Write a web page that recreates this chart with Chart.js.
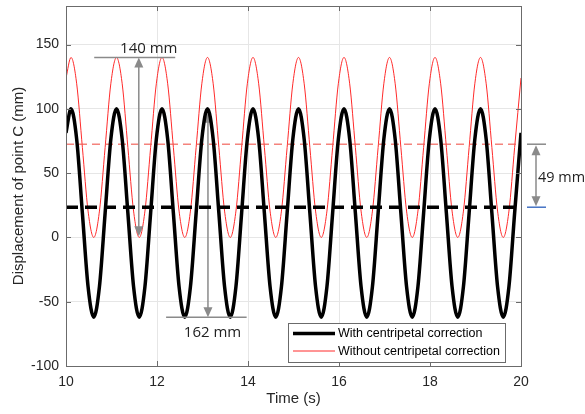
<!DOCTYPE html>
<html lang="en">
<head>
<meta charset="UTF-8">
<title>Displacement of point C</title>
<script src="https://cdn.jsdelivr.net/npm/chart.js"></script>
<style>
    body { margin: 0; background: #fff; }
    #grafico { display: block; }
</style>
</head>
<body>
<canvas id="grafico" width="585" height="414"></canvas>
<script>
    var tempos = [10,
        10.11, 10.235, 10.36, 10.485, 10.61, 10.735, 10.86, 10.985,
        11.11, 11.235, 11.36, 11.485, 11.61, 11.735, 11.86, 11.985,
        12.11, 12.235, 12.36, 12.485, 12.61, 12.735, 12.86, 12.985,
        13.11, 13.235, 13.36, 13.485, 13.61, 13.735, 13.86, 13.985,
        14.11, 14.235, 14.36, 14.485, 14.61, 14.735, 14.86, 14.985,
        15.11, 15.235, 15.36, 15.485, 15.61, 15.735, 15.86, 15.985,
        16.11, 16.235, 16.36, 16.485, 16.61, 16.735, 16.86, 16.985,
        17.11, 17.235, 17.36, 17.485, 17.61, 17.735, 17.86, 17.985,
        18.11, 18.235, 18.36, 18.485, 18.61, 18.735, 18.86, 18.985,
        19.11, 19.235, 19.36, 19.485, 19.61, 19.735, 19.86,
        20];

    var comCorrecao = [81.4,
        100, 76.3, 19, -38.3, -62, -38.3, 19, 76.3,
        100, 76.3, 19, -38.3, -62, -38.3, 19, 76.3,
        100, 76.3, 19, -38.3, -62, -38.3, 19, 76.3,
        100, 76.3, 19, -38.3, -62, -38.3, 19, 76.3,
        100, 76.3, 19, -38.3, -62, -38.3, 19, 76.3,
        100, 76.3, 19, -38.3, -62, -38.3, 19, 76.3,
        100, 76.3, 19, -38.3, -62, -38.3, 19, 76.3,
        100, 76.3, 19, -38.3, -62, -38.3, 19, 76.3,
        100, 76.3, 19, -38.3, -62, -38.3, 19, 76.3,
        100, 76.3, 19, -38.3, -62, -38.3, 19,
        81.4];

    var semCorrecao = [124,
        140, 119.5, 70, 20.5, 0, 20.5, 70, 119.5,
        140, 119.5, 70, 20.5, 0, 20.5, 70, 119.5,
        140, 119.5, 70, 20.5, 0, 20.5, 70, 119.5,
        140, 119.5, 70, 20.5, 0, 20.5, 70, 119.5,
        140, 119.5, 70, 20.5, 0, 20.5, 70, 119.5,
        140, 119.5, 70, 20.5, 0, 20.5, 70, 119.5,
        140, 119.5, 70, 20.5, 0, 20.5, 70, 119.5,
        140, 119.5, 70, 20.5, 0, 20.5, 70, 119.5,
        140, 119.5, 70, 20.5, 0, 20.5, 70, 119.5,
        140, 119.5, 70, 20.5, 0, 20.5, 70,
        124];

    var mediaCom = 23.5;
    var mediaSem = 72.5;

    var xTicks = [10, 12, 14, 16, 18, 20];
    var yTicks = [-100, -50, 0, 50, 100, 150];

    var nomes = ["With centripetal correction", "Without centripetal correction"];

    // amplitude markers: [time of arrow, top value, bottom value, text]
    var cotas = [
        [11.6, 140, 1, "140 mm"],
        [13.12, 97, -62, "162 mm"]
    ];

    var fonte = "'Liberation Sans', Arial, sans-serif";
    var cinza = "#6b6b6b";

    function pontos(valores) {
        return tempos.map(function (t, i) { return { x: t, y: valores[i] } });
    }

    function seta(ctx, x, y1, y2) {
        ctx.beginPath();
        ctx.moveTo(x, y1 + 6);
        ctx.lineTo(x, y2 - 6);
        ctx.stroke();
        ctx.beginPath();
        ctx.moveTo(x, y1);
        ctx.lineTo(x - 4.5, y1 + 10);
        ctx.lineTo(x + 4.5, y1 + 10);
        ctx.closePath();
        ctx.fill();
        ctx.beginPath();
        ctx.moveTo(x, y2);
        ctx.lineTo(x - 4.5, y2 - 10);
        ctx.lineTo(x + 4.5, y2 - 10);
        ctx.closePath();
        ctx.fill();
    }

    var extras = {
        id: 'extras',
        beforeDatasetsDraw: function (chart) {
            // a seta de 162 mm fica por baixo da curva preta
            var ctx = chart.ctx;
            var xs = chart.scales.x;
            var ys = chart.scales.y;
            var c2 = cotas[1];
            ctx.save();
            ctx.strokeStyle = "#8a8a8a";
            ctx.fillStyle = "#8a8a8a";
            ctx.lineWidth = 1.5;
            seta(ctx, xs.getPixelForValue(c2[0]), ys.getPixelForValue(c2[1]), ys.getPixelForValue(c2[2]));
            ctx.restore();
        },
        afterDatasetsDraw: function (chart) {
            var ctx = chart.ctx;
            var a = chart.chartArea;
            var xs = chart.scales.x;
            var ys = chart.scales.y;
            ctx.save();

            // caixa e ticks para dentro
            ctx.strokeStyle = cinza;
            ctx.lineWidth = 1;
            ctx.strokeRect(Math.round(a.left) + 0.5, Math.round(a.top) + 0.5,
                Math.round(a.right - a.left), Math.round(a.bottom - a.top));
            ctx.beginPath();
            xTicks.forEach(function (v) {
                var x = Math.round(xs.getPixelForValue(v)) + 0.5;
                ctx.moveTo(x, a.bottom); ctx.lineTo(x, a.bottom - 5);
                ctx.moveTo(x, a.top); ctx.lineTo(x, a.top + 5);
            });
            yTicks.forEach(function (v) {
                var y = Math.round(ys.getPixelForValue(v)) + 0.5;
                ctx.moveTo(a.left, y); ctx.lineTo(a.left + 5, y);
                ctx.moveTo(a.right, y); ctx.lineTo(a.right - 5, y);
            });
            ctx.stroke();

            // cotas 140 mm e 162 mm
            ctx.strokeStyle = "#8a8a8a";
            ctx.fillStyle = "#8a8a8a";
            ctx.lineWidth = 1.5;
            var c1 = cotas[0], c2 = cotas[1];
            var y140 = ys.getPixelForValue(c1[1]);
            ctx.beginPath();
            ctx.moveTo(xs.getPixelForValue(10.62), y140);
            ctx.lineTo(xs.getPixelForValue(12.4), y140);
            ctx.stroke();
            seta(ctx, xs.getPixelForValue(c1[0]), y140, ys.getPixelForValue(c1[2]));

            var y162 = ys.getPixelForValue(c2[2]);
            ctx.beginPath();
            ctx.moveTo(xs.getPixelForValue(12.2), y162);
            ctx.lineTo(xs.getPixelForValue(13.97), y162);
            ctx.stroke();

            // diferenca entre as medias, fora do grafico
            var yA = ys.getPixelForValue(mediaSem);
            var yB = ys.getPixelForValue(mediaCom);
            ctx.beginPath();
            ctx.moveTo(a.right + 6, yA);
            ctx.lineTo(a.right + 25, yA);
            ctx.stroke();
            seta(ctx, a.right + 15, yA + 1, yB - 1);
            ctx.strokeStyle = "#4472c4";
            ctx.beginPath();
            ctx.moveTo(a.right + 6, yB);
            ctx.lineTo(a.right + 25, yB);
            ctx.stroke();

            ctx.fillStyle = "#222";
            ctx.font = "15px 'Open Sans', sans-serif";
            ctx.textBaseline = "middle";
            ctx.textAlign = "center";
            ctx.fillText(c1[3], xs.getPixelForValue(11.82), y140 - 9);
            ctx.fillText(c2[3], xs.getPixelForValue(13.22), y162 + 16);
            ctx.textAlign = "left";
            ctx.fillText((mediaSem - mediaCom) + " mm", a.right + 17, (yA + yB) / 2 + 2, 47);

            ctx.restore();
        },
        afterDraw: function (chart) {
            var ctx = chart.ctx;
            var a = chart.chartArea;
            var esq = a.right - 233;
            var topo = a.bottom - 43;
            ctx.save();
            ctx.fillStyle = "#fff";
            ctx.fillRect(esq, topo, 217, 39);
            ctx.strokeStyle = cinza;
            ctx.lineWidth = 1;
            ctx.strokeRect(esq + 0.5, topo + 0.5, 217, 39);

            var estilos = [["#000", 3.5], ["#ff2a2a", 1]];
            ctx.font = "12.5px " + fonte;
            ctx.textBaseline = "middle";
            ctx.fillStyle = "#000";
            for (var i = 0; i < 2; i++) {
                var y = topo + 10.5 + i * 17.5;
                ctx.strokeStyle = estilos[i][0];
                ctx.lineWidth = estilos[i][1];
                ctx.beginPath();
                ctx.moveTo(esq + 5, y);
                ctx.lineTo(esq + 47, y);
                ctx.stroke();
                ctx.fillText(nomes[i], esq + 50, y + 0.5);
            }
            ctx.restore();
        }
    };

    var grafico = new Chart(document.getElementById('grafico'), {
        type: 'line',
        data: {
            datasets: [
                {
                    label: "mean with",
                    data: [{ x: 10, y: mediaCom }, { x: 20, y: mediaCom }],
                    borderColor: "#000",
                    borderWidth: 3.5,
                    borderDash: [12, 7],
                    pointRadius: 0
                },
                {
                    label: nomes[0],
                    data: pontos(comCorrecao),
                    borderColor: "#000",
                    borderWidth: 3.5,
                    pointRadius: 0,
                    cubicInterpolationMode: 'monotone'
                },
                {
                    label: "mean without",
                    data: [{ x: 10, y: mediaSem }, { x: 20, y: mediaSem }],
                    borderColor: "rgba(240, 90, 80, 0.75)",
                    borderWidth: 1.5,
                    borderDash: [8, 5],
                    pointRadius: 0
                },
                {
                    label: nomes[1],
                    data: pontos(semCorrecao),
                    borderColor: "#ff2a2a",
                    borderWidth: 1,
                    pointRadius: 0,
                    cubicInterpolationMode: 'monotone'
                }
            ]
        },
        options: {
            responsive: false,
            animation: false,
            layout: { padding: { top: 6, right: 64, bottom: 0, left: 0 } },
            plugins: {
                legend: { display: false },
                tooltip: { enabled: false }
            },
            scales: {
                x: {
                    type: 'linear',
                    min: 10,
                    max: 20,
                    afterBuildTicks: function (s) { s.ticks = xTicks.map(function (v) { return { value: v } }) },
                    afterFit: function (s) { s.height = 48; s.paddingLeft = 0; s.paddingRight = 0 },
                    grid: { color: "#e6e6e6", drawTicks: false },
                    border: { display: false },
                    ticks: { color: "#262626", padding: 8, font: { family: fonte, size: 14 } },
                    title: {
                        display: true,
                        text: "Time (s)",
                        color: "#262626",
                        font: { family: fonte, size: 15 },
                        padding: { top: 0, bottom: 6 }
                    }
                },
                y: {
                    min: -100,
                    max: 180,
                    afterBuildTicks: function (s) { s.ticks = yTicks.map(function (v) { return { value: v } }) },
                    afterFit: function (s) { s.width = 66; s.paddingTop = 0; s.paddingBottom = 0 },
                    grid: { color: "#e6e6e6", drawTicks: false },
                    border: { display: false },
                    ticks: { color: "#262626", padding: 7, font: { family: fonte, size: 14 } },
                    title: {
                        display: true,
                        text: "Displacement of point C (mm)",
                        color: "#262626",
                        font: { family: fonte, size: 15 },
                        padding: { top: 10, bottom: 0 }
                    }
                }
            }
        },
        plugins: [extras]
    });
</script>
</body>
</html>
